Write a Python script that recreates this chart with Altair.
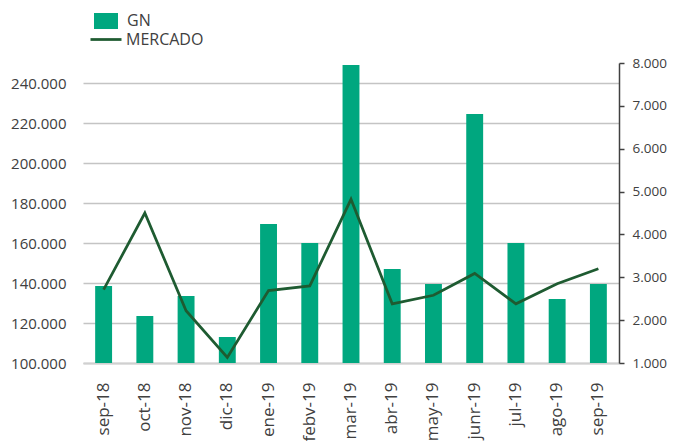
import altair as alt
import pandas as pd

meses = ["sep-18", "oct-18", "nov-18", "dic-18", "ene-19", "febv-19", "mar-19",
         "abr-19", "may-19", "junr-19", "jul-19", "ago-19", "sep-19"]
gn = [138500, 123500, 133500, 113000, 169500, 160000, 249000,
      147000, 139500, 224500, 160000, 132000, 139500]
mercado = [2710, 4500, 2220, 1130, 2690, 2800, 4820,
           2380, 2580, 3090, 2380, 2850, 3200]
left_ticks = [100000, 120000, 140000, 160000, 180000, 200000, 220000, 240000]
right_ticks = [1000, 2000, 3000, 4000, 5000, 6000, 7000, 8000]

BAR = "#00a77f"
LINE = "#1e5b31"
FONT = "Open Sans"
TXT = "#404040"

df = pd.DataFrame({"mes": meses, "gn": gn, "mercado": mercado})

fmt = "replace(format(datum.value, ',.0f'), ',', '.')"

x = alt.X("mes:N", sort=meses, title=None,
          scale=alt.Scale(paddingInner=0.59, paddingOuter=0.295),
          axis=alt.Axis(labelAngle=-90, ticks=False, domainColor="#d0d0d0",
                        domainWidth=2, labelPadding=19, labelFontSize=17,
                        labelColor=TXT, labelFont=FONT))

base = alt.Chart(df)

bars = base.transform_calculate(s1="'GN'").mark_bar(clip=True).encode(
    x=x,
    y=alt.Y("gn:Q", title=None,
            scale=alt.Scale(domain=[100000, 250000], zero=False, nice=False),
            axis=alt.Axis(values=left_ticks, labelExpr=fmt, domain=False, ticks=False,
                          grid=True, gridColor="#c4c4c4", gridWidth=1.6,
                          labelPadding=17, labelFontSize=15, labelColor=TXT,
                          labelFont=FONT)),
    color=alt.Color("s1:N", scale=alt.Scale(domain=["GN"], range=[BAR]),
                    legend=alt.Legend(title=None, orient="none", legendX=11, legendY=-54,
                                      symbolType="M-1,-0.667H1V0.667H-1Z", symbolSize=576,
                                      symbolStrokeWidth=0, labelOffset=9, padding=0,
                                      labelFontSize=16, labelFont=FONT, labelColor=TXT)),
)

line = base.transform_calculate(s2="'MERCADO'").mark_line(strokeWidth=2.75).encode(
    x=x,
    y=alt.Y("mercado:Q", title=None,
            scale=alt.Scale(domain=[1000, 8000], zero=False, nice=False),
            axis=alt.Axis(orient="right", values=right_ticks, labelExpr=fmt, grid=False,
                          domainColor=TXT, domainWidth=1.5, tickColor=TXT, tickWidth=1.5,
                          tickSize=5, labelPadding=8, labelFontSize=13.5,
                          labelColor=TXT, labelFont=FONT)),
    stroke=alt.Stroke("s2:N", scale=alt.Scale(domain=["MERCADO"], range=[LINE]),
                      legend=alt.Legend(title=None, orient="none", legendX=6, legendY=-40.5,
                                        symbolType="stroke", symbolSize=961,
                                        symbolStrokeWidth=2.75, labelOffset=3, padding=0,
                                        labelFontSize=16, labelFont=FONT, labelColor=TXT)),
)

chart = alt.layer(bars, line).resolve_scale(y="independent").properties(
    width=536, height=300,
    autosize=alt.AutoSizeParams(type="none"),
    padding={"left": 75, "top": 55, "right": 48, "bottom": 78},
).configure_view(stroke=None)

chart.save("out.html", embed_options={"renderer": "svg", "actions": False})
